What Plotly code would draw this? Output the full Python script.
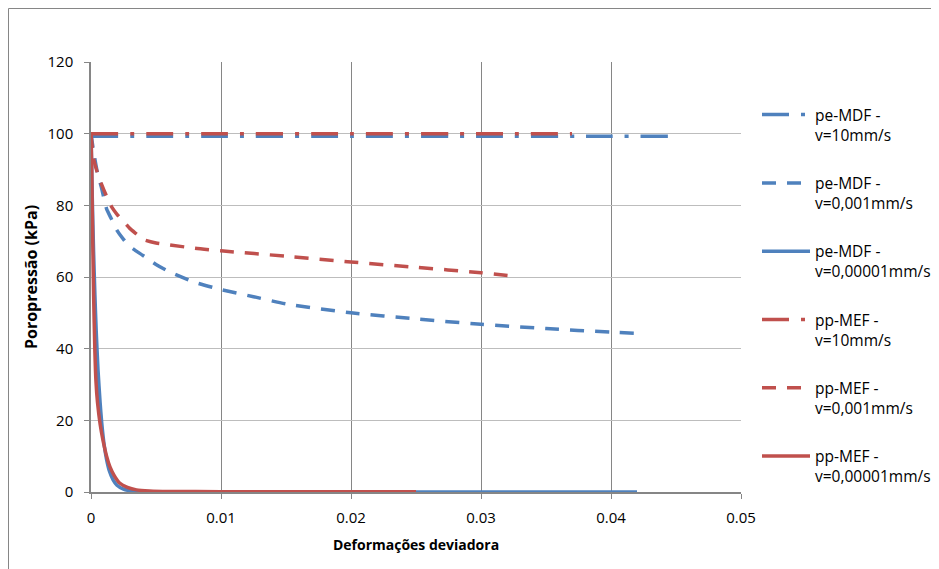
import plotly.graph_objects as go

# ---- data ----
pe_10_x = [0, 0.01, 0.02, 0.03, 0.04, 0.0445]
pe_10_y = [99.3, 99.3, 99.3, 99.3, 99.3, 99.3]

pe_001_x = [0, 0.0002, 0.0005, 0.0008, 0.0012, 0.0016, 0.002, 0.0025, 0.003, 0.004, 0.005,
            0.006, 0.008, 0.01, 0.0125, 0.015, 0.02, 0.025, 0.03, 0.035, 0.04, 0.0425]
pe_001_y = [100, 95, 89, 85, 79, 76, 73, 70.5, 68.5, 66, 63.5,
            61.5, 58.5, 56.5, 54.5, 52.5, 50, 48.3, 46.8, 45.6, 44.6, 44.2]

pe_00001_x = [0, 0.0001, 0.0002, 0.0003, 0.0004, 0.00054, 0.0007, 0.00082, 0.001, 0.0012, 0.0014,
              0.0017, 0.002, 0.0025, 0.003, 0.004, 0.005, 0.01, 0.02, 0.03, 0.042]
pe_00001_y = [100, 82, 67, 55, 45, 34, 25, 19.5, 13.5, 9, 6,
              3.4, 1.9, 0.8, 0.35, 0.1, 0.03, 0, 0, 0, 0]

pp_10_x = [0, 0.01, 0.02, 0.03, 0.037]
pp_10_y = [100, 100, 100, 100, 100]

pp_001_x = [0, 0.0002, 0.0005, 0.0008, 0.0012, 0.0016, 0.002, 0.0025, 0.003, 0.0035, 0.004,
            0.005, 0.006, 0.008, 0.01, 0.015, 0.02, 0.025, 0.03, 0.0325]
pp_001_y = [100, 93, 89, 86, 82.5, 79.5, 77.5, 75.5, 73.5, 72, 70.5,
            69.5, 69, 68, 67.3, 65.8, 64.2, 62.7, 61.2, 60.2]

pp_00001_x = [0, 0.00005, 0.0001, 0.0002, 0.0003, 0.00038, 0.0005, 0.0007, 0.00092, 0.0012, 0.00146,
              0.0018, 0.0022, 0.0028, 0.0035, 0.0045, 0.006, 0.01, 0.015, 0.02, 0.025]
pp_00001_y = [100, 92, 78, 55, 39, 31, 25, 19, 14.5, 10, 7,
              4.5, 2.5, 1.3, 0.6, 0.3, 0.15, 0.1, 0.1, 0.1, 0.1]

names = ["pe-MDF -<br>v=10mm/s", "pe-MDF -<br>v=0,001mm/s", "pe-MDF -<br>v=0,00001mm/s",
         "pp-MEF -<br>v=10mm/s", "pp-MEF -<br>v=0,001mm/s", "pp-MEF -<br>v=0,00001mm/s"]

BLUE = "#4F81BD"
RED = "#C0504D"
DASHDOT = "27px,12px,4px,12px"
DASH = "14px,11px"

series = [
    (pe_10_x, pe_10_y, BLUE, DASHDOT),
    (pe_001_x, pe_001_y, BLUE, DASH),
    (pe_00001_x, pe_00001_y, BLUE, "solid"),
    (pp_10_x, pp_10_y, RED, DASHDOT),
    (pp_001_x, pp_001_y, RED, DASH),
    (pp_00001_x, pp_00001_y, RED, "solid"),
]

FONT = "Open Sans"
# figure is placed at (8, 8) in the page; plot area spans page x 91..741, y 62..492
L, T, PW, PH = 83, 54, 650, 430
W, H = 931, 561

fig = go.Figure()
for i, (xs, ys, col, dash) in enumerate(series):
    fig.add_trace(go.Scatter(
        x=xs, y=ys, mode="lines", name=names[i], legendgroup=f"g{i}",
        line=dict(color=col, width=3.5, dash=dash, shape="spline", smoothing=0.6),
    ))

axis_common = dict(
    showline=True, linecolor="#868686", linewidth=1.5,
    ticks="outside", ticklen=5, tickcolor="#868686", tickwidth=1,
    zeroline=False, tickfont=dict(family=FONT, size=15, color="black"),
)
fig.update_xaxes(range=[0, 0.05], dtick=0.01, tick0=0, gridcolor="#868686", gridwidth=1,
                 ticklabelstandoff=6,
                 title=dict(text="<b>Deformações deviadora</b>", font=dict(family=FONT, size=14, color="black"), standoff=14),
                 **axis_common)
fig.update_yaxes(range=[0, 120], dtick=20, tick0=0, gridcolor="#bdbdbd", gridwidth=1,
                 ticklabelstandoff=8,
                 title=dict(text="<b>Poropressão (kPa)</b>", font=dict(family=FONT, size=16, color="black"), standoff=6),
                 **axis_common)

fig.add_shape(type="rect", xref="paper", yref="paper",
              x0=(0.5 - L) / PW, x1=1.6, y0=-0.4, y1=(T + PH - 0.5) / PH,
              line=dict(color="#868686", width=1), fillcolor="rgba(0,0,0,0)", layer="below")

fig.update_layout(
    width=W, height=H,
    margin=dict(l=L, r=W - L - PW, t=T, b=H - T - PH, autoexpand=False),
    paper_bgcolor="white", plot_bgcolor="white",
    font=dict(family=FONT, size=13, color="black"),
    legend=dict(x=(757 - 91) / PW, xanchor="left", y=(492 - 98) / PH, yanchor="top",
                traceorder="grouped", tracegroupgap=25, itemwidth=48, valign="top",
                font=dict(family=FONT, size=15.5, color="black"), bgcolor="rgba(0,0,0,0)"),
)
fig.write_html("out.html")
